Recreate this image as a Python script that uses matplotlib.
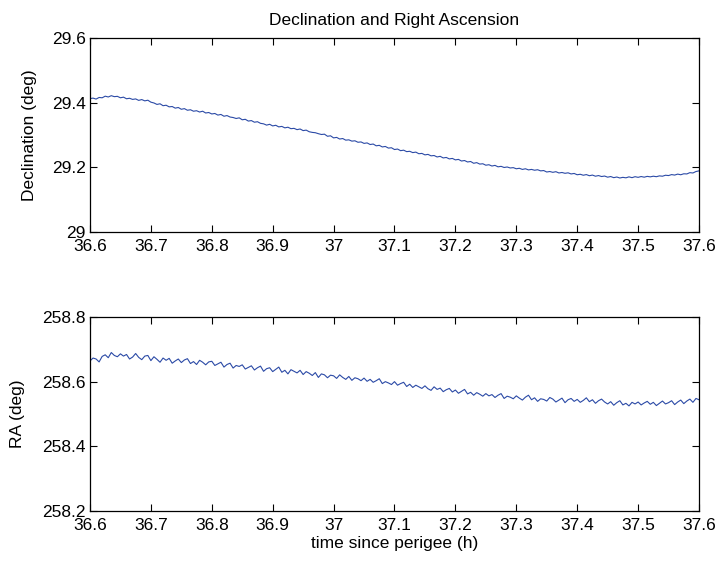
import numpy as np
import matplotlib as mp
mp.use("Agg")
import matplotlib.pyplot as plt
from matplotlib.ticker import FixedLocator, FuncFormatter

# time since perigee (h), sampled every 0.005 h
time_h = np.round(np.arange(36.6, 37.6001, 0.005), 3)

# declination (deg)
declination = [
    29.4125, 29.4140, 29.4110, 29.4160, 29.4150, 29.4200, 29.4175, 29.4215, 29.4185, 29.4195,
    29.4150, 29.4170, 29.4120, 29.4135, 29.4100, 29.4115, 29.4070, 29.4095, 29.4055, 29.4075,
    29.4015, 29.3990, 29.3945, 29.3965, 29.3905, 29.3920, 29.3870, 29.3880, 29.3830, 29.3850,
    29.3795, 29.3815, 29.3765, 29.3780, 29.3735, 29.3750, 29.3710, 29.3735, 29.3680, 29.3695,
    29.3650, 29.3665, 29.3615, 29.3635, 29.3580, 29.3600, 29.3555, 29.3540, 29.3510, 29.3530,
    29.3470, 29.3485, 29.3430, 29.3445, 29.3395, 29.3410, 29.3360, 29.3345, 29.3305, 29.3330,
    29.3280, 29.3300, 29.3250, 29.3265, 29.3220, 29.3240, 29.3195, 29.3205, 29.3165, 29.3185,
    29.3135, 29.3150, 29.3100, 29.3080, 29.3070, 29.3040, 29.3015, 29.3025, 29.2960, 29.2975,
    29.2910, 29.2925, 29.2875, 29.2890, 29.2840, 29.2850, 29.2810, 29.2820, 29.2775, 29.2785,
    29.2740, 29.2755, 29.2705, 29.2720, 29.2665, 29.2680, 29.2630, 29.2645, 29.2595, 29.2605,
    29.2550, 29.2565, 29.2515, 29.2530, 29.2485, 29.2495, 29.2455, 29.2470, 29.2420, 29.2430,
    29.2385, 29.2400, 29.2355, 29.2365, 29.2320, 29.2340, 29.2290, 29.2305, 29.2260, 29.2275,
    29.2230, 29.2245, 29.2195, 29.2210, 29.2165, 29.2180, 29.2125, 29.2145, 29.2100, 29.2110,
    29.2065, 29.2080, 29.2040, 29.2060, 29.2015, 29.2030, 29.1995, 29.2010, 29.1980, 29.1990,
    29.1955, 29.1970, 29.1935, 29.1955, 29.1920, 29.1935, 29.1910, 29.1925, 29.1890, 29.1900,
    29.1855, 29.1870, 29.1845, 29.1865, 29.1825, 29.1840, 29.1815, 29.1830, 29.1795, 29.1810,
    29.1770, 29.1785, 29.1755, 29.1775, 29.1740, 29.1760, 29.1725, 29.1745, 29.1715, 29.1730,
    29.1695, 29.1715, 29.1680, 29.1700, 29.1670, 29.1690, 29.1675, 29.1705, 29.1680, 29.1710,
    29.1690, 29.1715, 29.1695, 29.1720, 29.1705, 29.1725, 29.1710, 29.1735, 29.1725, 29.1755,
    29.1745, 29.1775, 29.1760, 29.1790, 29.1770, 29.1800, 29.1795, 29.1835, 29.1825, 29.1870,
    29.1890,
]

# right ascension (deg)
right_ascension = [
    258.664, 258.673, 258.670, 258.661, 258.678, 258.683, 258.674, 258.690, 258.681, 258.677,
    258.686, 258.679, 258.684, 258.670, 258.676, 258.687, 258.675, 258.668, 258.679, 258.681,
    258.665, 258.677, 258.669, 258.660, 258.673, 258.666, 258.672, 258.657, 258.664, 258.670,
    258.659, 258.667, 258.671, 258.656, 258.662, 258.653, 258.666, 258.660, 258.652, 258.661,
    258.663, 258.650, 258.655, 258.660, 258.645, 258.653, 258.657, 258.642, 258.650, 258.647,
    258.652, 258.639, 258.644, 258.649, 258.636, 258.643, 258.648, 258.632, 258.640, 258.643,
    258.631, 258.638, 258.645, 258.629, 258.635, 258.624, 258.637, 258.632, 258.627, 258.635,
    258.622, 258.631, 258.626, 258.619, 258.628, 258.613, 258.624, 258.621, 258.612, 258.620,
    258.618, 258.610, 258.621, 258.613, 258.607, 258.616, 258.604, 258.612, 258.609, 258.603,
    258.611, 258.601, 258.607, 258.598, 258.603, 258.609, 258.594, 258.600, 258.596, 258.591,
    258.600, 258.589, 258.594, 258.598, 258.585, 258.592, 258.582, 258.589, 258.584, 258.579,
    258.587, 258.578, 258.573, 258.584, 258.576, 258.580, 258.569, 258.575, 258.579, 258.568,
    258.574, 258.564, 258.570, 258.576, 258.562, 258.567, 258.558, 258.566, 258.561, 258.555,
    258.563, 258.556, 258.560, 258.551, 258.558, 258.563, 258.548, 258.555, 258.552, 258.547,
    258.556, 258.549, 258.543, 258.552, 258.558, 258.544, 258.550, 258.539, 258.547, 258.545,
    258.540, 258.551, 258.546, 258.537, 258.543, 258.549, 258.535, 258.544, 258.548, 258.539,
    258.545, 258.536, 258.542, 258.550, 258.538, 258.544, 258.533, 258.541, 258.546, 258.537,
    258.531, 258.538, 258.527, 258.535, 258.541, 258.528, 258.533, 258.525, 258.536, 258.531,
    258.537, 258.528, 258.534, 258.539, 258.530, 258.536, 258.526, 258.533, 258.540, 258.531,
    258.535, 258.541, 258.529, 258.537, 258.543, 258.532, 258.540, 258.546, 258.536, 258.548,
    258.544,
]

x_ticks = [36.6, 36.7, 36.8, 36.9, 37.0, 37.1, 37.2, 37.3, 37.4, 37.5, 37.6]
dec_ticks = [29.0, 29.2, 29.4, 29.6]
ra_ticks = [258.2, 258.4, 258.6, 258.8]

mp.rcParams["font.family"] = ["Liberation Sans", "DejaVu Sans"]
mp.rcParams["font.size"] = 12.5

line_color = "#2b4aa6"
fmt = FuncFormatter(lambda v, _: f"{v:g}")

fig = plt.figure(figsize=(7.21, 5.65), dpi=100)
ax1 = fig.add_axes([0.1248, 0.5894, 0.8447, 0.3434])
ax2 = fig.add_axes([0.1248, 0.0956, 0.8447, 0.3434])

ax1.plot(time_h, declination, color=line_color, linewidth=0.8)
ax2.plot(time_h, right_ascension, color=line_color, linewidth=0.8)

for ax, yt in ([ax1, dec_ticks], [ax2, ra_ticks]):
    ax.set_xlim(x_ticks[0], x_ticks[-1])
    ax.set_ylim(yt[0], yt[-1])
    ax.xaxis.set_major_locator(FixedLocator(x_ticks))
    ax.yaxis.set_major_locator(FixedLocator(yt))
    ax.xaxis.set_major_formatter(fmt)
    ax.yaxis.set_major_formatter(fmt)
    ax.tick_params(direction="in", top=True, right=True, length=5, width=0.8)
    ax.tick_params(axis="x", pad=5)
    ax.tick_params(axis="y", pad=3)
    for sp in ax.spines.values():
        sp.set_linewidth(0.9)

ax1.set_title("Declination and Right Ascension", fontsize=12.5, pad=9)
ax1.set_ylabel("Declination (deg)")
ax2.set_ylabel("RA (deg)")
ax1.yaxis.set_label_coords(-0.087, 0.5)
ax2.yaxis.set_label_coords(-0.107, 0.5)
ax2.set_xlabel("time since perigee (h)", labelpad=2)

fig.savefig("out.png", dpi=100, facecolor="white")
plt.close()
